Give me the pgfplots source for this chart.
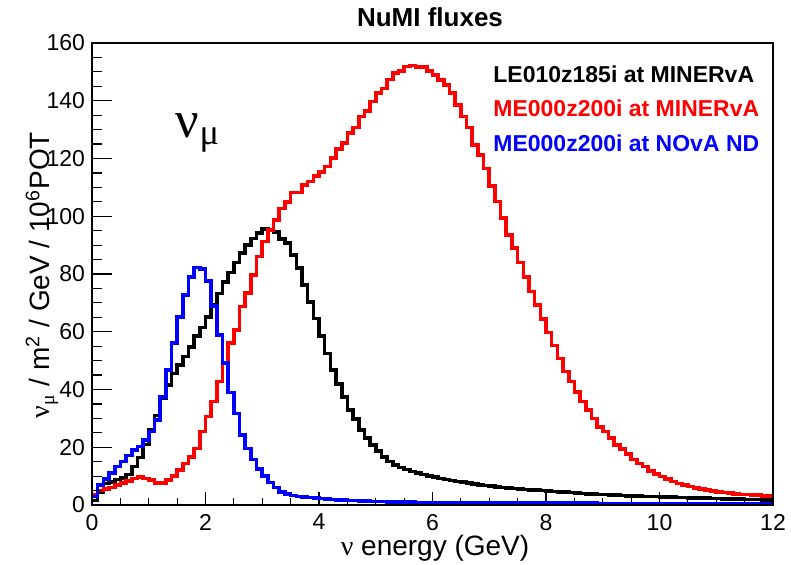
\documentclass[border=0pt]{standalone}
\usepackage{pgfplots}
\pgfplotsset{compat=1.18}
\usepackage{pgfplotstable}
\usepackage{fontspec}
\setmainfont{Liberation Sans}
\newfontfamily\grk{Liberation Serif}

% flux per bin (0.1 GeV bins), value at the lower bin edge
\pgfplotstableread{
x     black  red    blue
0.0   1.5    3.5    2.9
0.1   4.5    5.0    6.9
0.2   7.5    5.6    8.9
0.3   8.0    6.1    11.0
0.4   8.8    6.9    13.3
0.5   9.3    7.7    15.0
0.6   10.5   8.4    17.1
0.7   13.3   9.2    19.0
0.8   16.5   9.6    20.2
0.9   21.0   9.2    22.5
1.0   26.0   8.7    25.4
1.1   31.0   7.7    29.4
1.2   37.0   7.7    37.5
1.3   41.6   8.7    46.8
1.4   45.5   10.0   56.2
1.5   48.5   12.1   65.2
1.6   51.4   14.4   72.7
1.7   54.8   16.7   78.9
1.8   58.5   19.6   82.3
1.9   61.5   25.4   81.8
2.0   65.2   30.6   77.6
2.1   69.3   35.8   68.9
2.2   73.3   42.7   58.9
2.3   77.3   49.1   49.1
2.4   80.5   56.0   38.9
2.5   84.0   60.6   31.7
2.6   87.2   68.7   24.2
2.7   90.0   73.5   19.6
2.8   92.3   79.7   15.8
2.9   94.2   86.0   12.5
3.0   95.5   91.2   10.0
3.1   95.2   95.2   7.8
3.2   94.5   98.7   6.0
3.3   92.1   102.7  4.5
3.4   90.8   105.0  3.8
3.5   86.6   108.2  3.3
3.6   82.0   108.2  3.0
3.7   76.2   110.8  2.8
3.8   70.4   112.0  2.6
3.9   64.6   113.9  2.4
4.0   58.5   115.4  2.2
4.1   52.5   117.2  2.05
4.2   46.8   120.1  1.9
4.3   41.9   123.2  1.8
4.4   37.5   125.3  1.7
4.5   32.9   128.9  1.6
4.6   29.7   130.8  1.5
4.7   26.0   134.5  1.4
4.8   23.1   136.5  1.3
4.9   20.8   139.7  1.25
5.0   18.8   142.6  1.2
5.1   16.7   144.3  1.15
5.2   15.0   147.4  1.1
5.3   13.9   149.7  1.05
5.4   13.0   150.4  1.0
5.5   12.3   151.8  0.97
5.6   11.6   152.2  0.94
5.7   11.0   151.6  0.91
5.8   10.5   151.6  0.88
5.9   10.0   150.4  0.85
6.0   9.6    148.9  0.82
6.1   9.2    147.2  0.81
6.2   8.8    145.5  0.80
6.3   8.5    142.6  0.79
6.4   8.2    138.5  0.78
6.5   7.9    134.5  0.78
6.6   7.6    130.8  0.77
6.7   7.3    124.7  0.76
6.8   7.0    121.2  0.75
6.9   6.7    116.6  0.74
7.0   6.5    110.5  0.74
7.1   6.3    105.1  0.73
7.2   6.1    99.3   0.72
7.3   5.9    93.5   0.71
7.4   5.7    88.9   0.70
7.5   5.5    84.0   0.70
7.6   5.3    79.0   0.69
7.7   5.2    74.0   0.68
7.8   5.1    69.2   0.67
7.9   5.0    64.4   0.66
8.0   4.85   59.7   0.66
8.1   4.7    55.2   0.65
8.2   4.55   50.8   0.64
8.3   4.4    46.2   0.63
8.4   4.3    42.7   0.62
8.5   4.15   39.2   0.62
8.6   4.0    35.8   0.61
8.7   3.9    32.9   0.60
8.8   3.8    30.0   0.59
8.9   3.7    27.1   0.58
9.0   3.6    25.4   0.58
9.1   3.5    23.1   0.57
9.2   3.4    20.8   0.56
9.3   3.3    19.3   0.56
9.4   3.2    17.6   0.55
9.5   3.15   15.8   0.55
9.6   3.1    14.4   0.54
9.7   3.0    13.3   0.53
9.8   2.95   11.8   0.53
9.9   2.9    10.7   0.52
10.0  2.85   9.8    0.52
10.1  2.8    9.0    0.51
10.2  2.7    8.2    0.50
10.3  2.65   7.5    0.50
10.4  2.6    6.9    0.49
10.5  2.5    6.4    0.49
10.6  2.45   5.9    0.48
10.7  2.4    5.5    0.47
10.8  2.35   5.1    0.47
10.9  2.3    4.8    0.46
11.0  2.2    4.6    0.46
11.1  2.15   4.3    0.45
11.2  2.1    4.1    0.44
11.3  2.05   3.9    0.44
11.4  2.0    3.7    0.43
11.5  1.95   3.6    0.43
11.6  1.9    3.5    0.42
11.7  1.85   3.4    0.42
11.8  1.8    3.2    0.41
11.9  1.75   3.1    0.41
12.0  1.75   3.1    0.41
}\fluxes

\begin{document}
\begin{tikzpicture}
\useasboundingbox (-46pt,-30pt) rectangle (349.5pt,252.5pt);
% main frame, data, x ticks and all tick labels
\begin{axis}[
  at={(0pt,0pt)}, anchor=south west,
  scale only axis, width=340.5pt, height=231pt,
  xmin=0, xmax=12, ymin=0, ymax=160,
  xtick={0,2,...,12}, ytick={0,20,...,160},
  minor x tick num=3, minor y tick num=3,
  tick align=inside, xtick pos=left, ytick pos=left,
  major tick length=6.5pt, minor tick length=3.25pt,
  tick style={black, line width=0.6pt},
  ytick style={draw=none},
  axis line style={line width=0.8pt},
  ticklabel style={font=\fontsize{11.5}{13}\selectfont},
  /pgf/number format/assume math mode=true,
  xticklabel style={yshift=-1pt},
  clip=true]
\addplot[const plot, black, line width=1.8pt] table[x=x, y=black]{\fluxes};
\addplot[const plot, red, line width=1.8pt] table[x=x, y=red]{\fluxes};
\addplot[const plot, blue, line width=1.8pt] table[x=x, y=blue]{\fluxes};
\end{axis}
% longer y ticks, as ROOT draws them
\begin{axis}[
  at={(0pt,0pt)}, anchor=south west,
  scale only axis, width=340.5pt, height=231pt,
  xmin=0, xmax=12, ymin=0, ymax=160,
  xtick=\empty, ytick={0,20,...,160}, yticklabels={},
  minor y tick num=3,
  tick align=inside, ytick pos=left,
  major tick length=10pt, minor tick length=5pt,
  tick style={black, line width=0.6pt},
  axis line style={line width=0.8pt}]
\end{axis}

\node[anchor=base, font=\bfseries\fontsize{13}{15}\selectfont] at (169pt,239pt) {NuMI fluxes};
\node[anchor=base, font=\fontsize{14}{16}\selectfont] at (171.5pt,-25.5pt) {{\grk ν} energy (GeV)};
\node[rotate=90, font=\fontsize{14}{16}\selectfont] at (-25pt,115pt)
  {{\grk ν}\textsubscript{\grk μ} / m\textsuperscript{2} / GeV / 10\textsuperscript{6}POT};

\node[anchor=base west, inner sep=0pt, font=\bfseries\fontsize{11.5}{14}\selectfont] at (200.5pt,211pt) {LE010z185i at MINERvA};
\node[anchor=base west, inner sep=0pt, red, font=\bfseries\fontsize{11.5}{14}\selectfont] at (200.5pt,194pt) {ME000z200i at MINERvA};
\node[anchor=base west, inner sep=0pt, blue, font=\bfseries\fontsize{11.5}{14}\selectfont] at (200.5pt,176.5pt) {ME000z200i at NOvA ND};

\node[font=\grk\fontsize{26}{28}\selectfont] at (53pt,186pt) {ν\textsubscript{μ}};
\end{tikzpicture}
\end{document}
